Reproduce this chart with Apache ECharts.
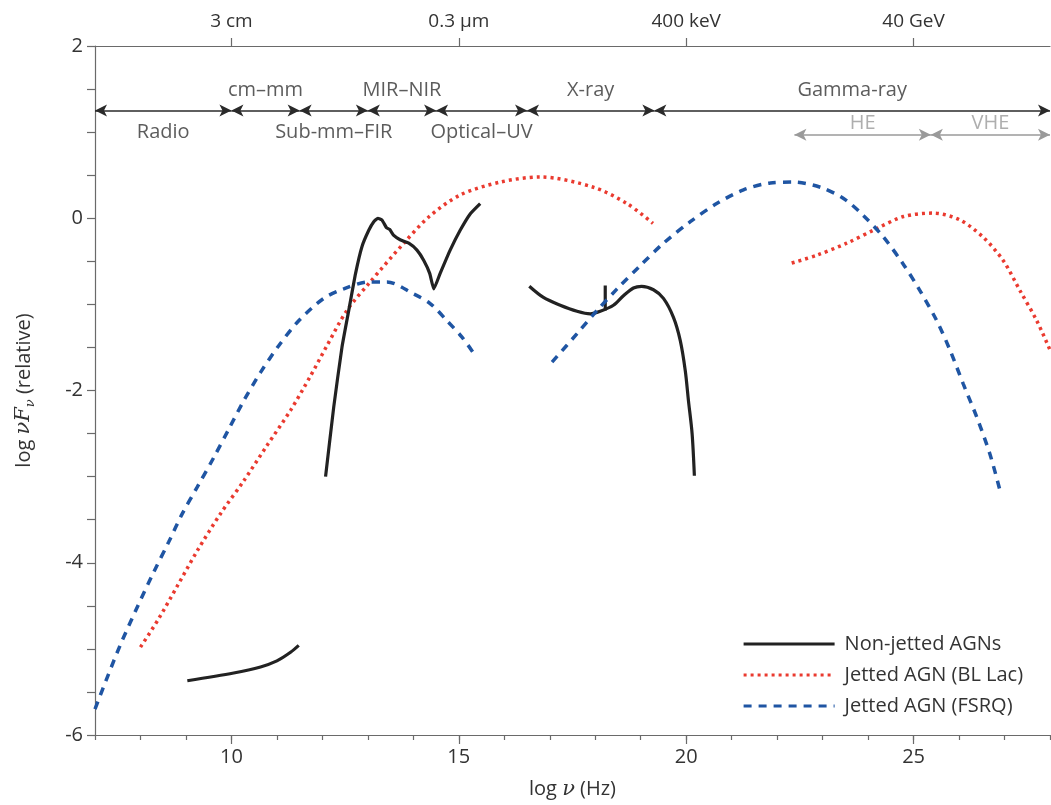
<!DOCTYPE html>
<html><head><meta charset="utf-8">
<script src="https://cdn.jsdelivr.net/npm/echarts@6/dist/echarts.min.js"></script>
<style>html,body{margin:0;padding:0;background:#fff}#c{width:1051px;height:805px}</style>
</head><body><div id="c"></div>
<script>
// ---- data ----
const xMajorTicks = [10, 15, 20, 25];
const topTickLabels = ['3 cm', '0.3 μm', '400 keV', '40 GeV'];
const bandEdges = [7, 10, 11.5, 13, 14.5, 16.5, 19.3, 28];
const bandNames = ['Radio', 'cm–mm', 'Sub-mm–FIR', 'MIR–NIR', 'Optical–UV', 'X-ray', 'Gamma-ray'];
const bandSide = ['bottom', 'top', 'bottom', 'top', 'bottom', 'top', 'top'];
const gammaEdges = [22.38, 25.38, 28];
const gammaNames = ['HE', 'VHE'];
const seriesNames = ['Non-jetted AGNs', 'Jetted AGN (BL Lac)', 'Jetted AGN (FSRQ)'];

const nonJetRadio = [[9.03,-5.37],[10.05,-5.28],[10.64,-5.21],[11.0,-5.14],[11.30,-5.04],[11.48,-4.96]];
const nonJetIR = [[12.07,-3.0],[12.25,-2.19],[12.43,-1.50],[12.58,-1.07],[12.73,-0.64],[12.87,-0.33],[13.02,-0.14],[13.13,-0.04],[13.22,0.0],[13.31,-0.02],[13.41,-0.11],[13.48,-0.13],[13.57,-0.20],[13.71,-0.25],[13.90,-0.29],[14.08,-0.37],[14.23,-0.49],[14.36,-0.64],[14.45,-0.82],[14.59,-0.64],[14.81,-0.37],[15.03,-0.14],[15.25,0.05],[15.47,0.17]];
const nonJetXray = [[16.55,-0.79],[16.86,-0.92],[17.23,-1.01],[17.60,-1.08],[17.89,-1.11],[18.11,-1.08],[18.40,-1.01],[18.62,-0.90],[18.84,-0.81],[19.02,-0.79],[19.28,-0.83],[19.50,-0.93],[19.72,-1.15],[19.87,-1.42],[19.98,-1.77],[20.05,-2.12],[20.13,-2.50],[20.18,-2.99]];
const nonJetLine = [[18.22,-1.07],[18.22,-0.78]];
const blLacLow = [[8.0,-4.98],[8.40,-4.65],[8.81,-4.27],[9.25,-3.86],[9.76,-3.43],[10.27,-3.05],[10.78,-2.64],[11.30,-2.23],[11.74,-1.83],[12.10,-1.48],[12.54,-1.07],[13.05,-0.74],[13.79,-0.29],[14.35,0.02],[15.03,0.27],[15.91,0.42],[16.79,0.48],[17.96,0.36],[18.70,0.17],[19.27,-0.06]];
const blLacHigh = [[22.32,-0.52],[22.87,-0.43],[23.53,-0.29],[24.19,-0.12],[24.78,0.02],[25.44,0.06],[26.02,-0.02],[26.53,-0.22],[26.97,-0.49],[27.34,-0.84],[27.71,-1.19],[28.0,-1.53]];
const fsrqLow = [[7.0,-5.70],[7.27,-5.33],[7.56,-4.95],[7.89,-4.56],[8.29,-4.11],[8.62,-3.76],[8.92,-3.43],[9.25,-3.12],[9.61,-2.78],[9.94,-2.45],[10.27,-2.12],[10.64,-1.79],[11.04,-1.48],[11.48,-1.19],[12.03,-0.93],[12.47,-0.82],[13.02,-0.74],[13.42,-0.74],[14.01,-0.88],[14.37,-0.99],[14.74,-1.19],[15.07,-1.38],[15.33,-1.57]];
const fsrqHigh = [[17.05,-1.67],[17.60,-1.34],[18.04,-1.07],[18.48,-0.82],[18.99,-0.55],[19.50,-0.29],[20.09,-0.04],[20.67,0.17],[21.26,0.33],[21.85,0.41],[22.36,0.42],[22.95,0.36],[23.46,0.23],[23.90,0.03],[24.34,-0.22],[24.77,-0.53],[25.14,-0.84],[25.51,-1.19],[25.80,-1.53],[26.09,-1.92],[26.39,-2.31],[26.68,-2.74],[26.90,-3.16]];

// ---- styles ----
const FONT = '"Open Sans", "Noto Sans", sans-serif';
const TXT = '#333';
const AX = '#6a6a6a';
const BLACK = '#222222', RED = '#ea3a2f', BLUE = '#1f55a3';
const bandY = 1.25, gammaY = 0.97;

const blackStyle = {color: BLACK, width: 3.2, type: 'solid'};
const redStyle = {color: RED, width: 3.5, type: [3, 4], cap: 'butt'};
const blueStyle = {color: BLUE, width: 3.5, type: [8, 7], cap: 'butt'};

function lineSeries(name, data, style, smooth) {
  return {type: 'line', name, data, xAxisIndex: 0, yAxisIndex: 0, showSymbol: false, symbol: 'none',
          smooth: smooth, lineStyle: style, itemStyle: {color: style.color}, silent: true, z: 3};
}

const bandArrows = [];
for (let i = 0; i < bandNames.length; i++) {
  bandArrows.push([{coord: [bandEdges[i], bandY]}, {coord: [bandEdges[i + 1], bandY]}]);
}
const gammaArrows = [];
for (let i = 0; i < gammaNames.length; i++) {
  gammaArrows.push([{coord: [gammaEdges[i], gammaY]}, {coord: [gammaEdges[i + 1], gammaY]}]);
}
const bandLabelData = bandNames.map((n, i) => ({
  value: [(bandEdges[i] + bandEdges[i + 1]) / 2, bandY], name: n,
  label: {position: bandSide[i], distance: bandSide[i] === 'top' ? 10 : 12}
}));
const gammaLabelData = gammaNames.map((n, i) => ({
  value: [(gammaEdges[i] + gammaEdges[i + 1]) / 2, gammaY], name: n,
  label: {position: 'top', distance: 1}
}));

const chart = echarts.init(document.getElementById('c'), null, {renderer: 'canvas'});
chart.setOption({
  animation: false,
  backgroundColor: '#fff',
  textStyle: {fontFamily: FONT},
  grid: {left: 95, right: 1, top: 46, bottom: 70, containLabel: false},
  legend: {
    data: seriesNames, orient: 'vertical', left: 737, top: 629,
    itemWidth: 91, itemHeight: 14, itemGap: 11,
    itemStyle: {opacity: 0, borderWidth: 0},
    lineStyle: {width: 3.2},
    textStyle: {fontFamily: FONT, fontSize: 20, color: TXT, padding: [0, 0, 0, 5]},
    selectedMode: false
  },
  xAxis: [
    {type: 'value', position: 'bottom', min: 7, max: 28, interval: 1,
     axisLine: {show: true, onZero: false, lineStyle: {color: AX, width: 1.2}},
     axisTick: {show: true, customValues: xMajorTicks, length: 9, lineStyle: {color: AX, width: 1.2}},
     axisLabel: {show: true, customValues: xMajorTicks, fontSize: 20, color: TXT, margin: 12, fontFamily: FONT},
     splitLine: {show: false},
     name: '{a|log }{i|ν}{a| (Hz)}', nameLocation: 'middle', nameGap: 44,
     nameTextStyle: {rich: {a: {fontSize: 20, color: TXT, fontFamily: FONT}, i: {fontSize: 21, color: TXT, fontStyle: 'italic', fontFamily: 'DejaVu Serif'}}}
    },
    {type: 'value', position: 'bottom', min: 7, max: 28, interval: 1,
     axisLine: {show: false, onZero: false},
     axisTick: {show: true, length: 5, lineStyle: {color: AX, width: 1.2}},
     axisLabel: {show: false}, splitLine: {show: false}},
    {type: 'value', position: 'top', min: 7, max: 28, interval: 1,
     axisLine: {show: true, onZero: false, lineStyle: {color: AX, width: 1.2}},
     axisTick: {show: true, customValues: xMajorTicks, length: 8, lineStyle: {color: AX, width: 1.2}},
     axisLabel: {show: true, customValues: xMajorTicks, fontSize: 19, color: TXT, margin: 15, fontFamily: FONT,
                 formatter: v => topTickLabels[xMajorTicks.indexOf(v)] || ''},
     splitLine: {show: false}}
  ],
  yAxis: [{
    type: 'value', min: -6, max: 2, interval: 0.5,
    axisLine: {show: true, onZero: false, lineStyle: {color: AX, width: 1.2}},
    axisTick: {show: true, length: 8, lineStyle: {color: AX, width: 1.2}},
    axisLabel: {fontSize: 20, color: TXT, margin: 12, fontFamily: FONT,
                formatter: v => (Math.abs(v % 2) < 1e-9 ? String(v) : '')},
    splitLine: {show: false},
    name: '{a|log }{i|νF}{s|ν}{a| (relative)}', nameLocation: 'middle', nameGap: 58, nameRotate: 90,
    nameTextStyle: {lineHeight: 26, rich: {
      a: {fontSize: 20, color: TXT, fontFamily: FONT},
      i: {fontSize: 21, color: TXT, fontStyle: 'italic', fontFamily: 'DejaVu Serif'},
      s: {fontSize: 13, color: TXT, fontStyle: 'italic', fontFamily: 'DejaVu Serif', verticalAlign: 'bottom', lineHeight: 26, padding: [10, 0, 0, 0]}
    }}
  }],
  series: [
    lineSeries(seriesNames[0], nonJetRadio, blackStyle, 0.3),
    lineSeries(seriesNames[1], blLacLow, redStyle, 0.3),
    lineSeries(seriesNames[2], fsrqLow, blueStyle, 0.3),
    lineSeries(seriesNames[0], nonJetIR, blackStyle, 0.15),
    lineSeries(seriesNames[0], nonJetXray, blackStyle, 0.3),
    lineSeries(seriesNames[0], nonJetLine, blackStyle, false),
    lineSeries(seriesNames[1], blLacHigh, redStyle, 0.3),
    lineSeries(seriesNames[2], fsrqHigh, blueStyle, 0.3),
    {type: 'line', name: 'bands', data: [], xAxisIndex: 0, yAxisIndex: 0, silent: true,
     markLine: {silent: true, symbol: ['arrow', 'arrow'], symbolSize: [9, 12], animation: false,
       label: {show: false}, lineStyle: {color: '#2a2a2a', width: 1.6, type: 'solid'},
       emphasis: {disabled: true}, data: bandArrows}},
    {type: 'line', name: 'gamma', data: [], xAxisIndex: 0, yAxisIndex: 0, silent: true,
     markLine: {silent: true, symbol: ['arrow', 'arrow'], symbolSize: [9, 12], animation: false,
       label: {show: false}, lineStyle: {color: '#9a9a9a', width: 1.6, type: 'solid'},
       emphasis: {disabled: true}, data: gammaArrows}},
    {type: 'scatter', name: 'bandLabels', xAxisIndex: 0, yAxisIndex: 0, symbolSize: 0, silent: true,
     data: bandLabelData,
     label: {show: true, formatter: p => p.name, fontSize: 20, color: TXT, fontFamily: FONT}},
    {type: 'scatter', name: 'gammaLabels', xAxisIndex: 0, yAxisIndex: 0, symbolSize: 0, silent: true,
     data: gammaLabelData,
     label: {show: true, formatter: p => p.name, fontSize: 20, color: '#9a9a9a', fontFamily: FONT}}
  ]
});
</script></body></html>
